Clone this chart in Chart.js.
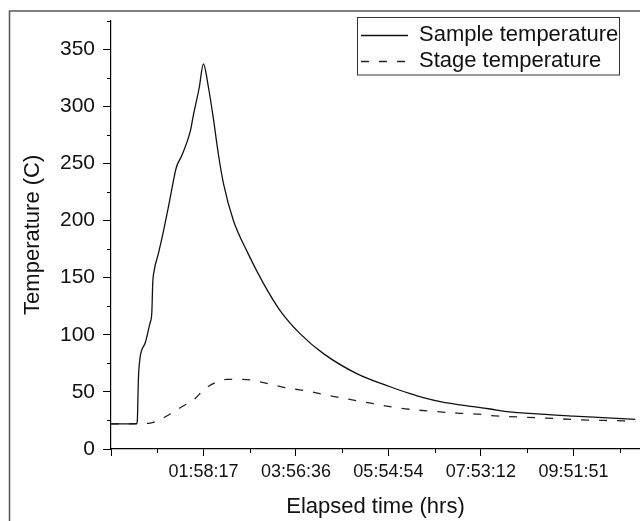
<!DOCTYPE html>
<html>
<head>
<meta charset="utf-8">
<title>Sample and stage temperature</title>
<script src="https://cdn.jsdelivr.net/npm/chart.js@4.4.1/dist/chart.umd.min.js"></script>
<style>
  html, body { margin: 0; padding: 0; background: #fff; }
  #wrap { width: 640px; height: 521px; }
</style>
</head>
<body>
<div id="wrap"><canvas id="chart" width="640" height="521"></canvas></div>
<script>
// elapsed time in hours, temperature in C
const sampleHours = [0, 0.54, 0.56, 0.585, 0.62, 0.65, 0.73, 0.83, 0.87, 0.89,
  0.92, 1.01, 1.12, 1.22, 1.29, 1.39, 1.51, 1.69, 1.76, 1.88,
  1.97, 2.08, 2.18, 2.29, 2.40, 2.61, 2.90, 3.25, 3.61, 4.03,
  4.53, 5.24, 5.95, 6.38, 6.66, 7.02, 7.73, 8.09, 8.44, 9.15,
  9.86, 10.58, 11.18];
const sampleTemps = [22, 22, 24, 62, 80, 86, 93, 110, 119, 145,
  156, 171, 191, 211, 226, 246, 257, 278, 293, 316,
  337, 316, 290, 258, 232, 200, 173, 145, 121, 101,
  83.5, 66, 54.5, 48.5, 45, 41.5, 37, 35, 32.8, 30.5,
  28.8, 27.3, 26];

const stageHours = [0, 0.80, 1.15, 1.51, 1.79, 1.97, 2.22, 2.47, 2.82, 3.18,
  3.68, 4.25, 4.68, 5.03, 5.42, 5.81, 6.20, 6.56, 6.91, 7.38,
  7.84, 8.09, 9.15, 10.22, 10.93, 11.18];
const stageTemps = [22, 22.4, 28, 37, 44, 51.5, 58, 61, 61, 58.7,
  54, 50.2, 46.6, 43.9, 41, 38, 35.6, 34, 32.8, 31.4,
  30.5, 29.3, 27.3, 25.2, 24.6, 23.8];

const seriesNames = ['Sample temperature', 'Stage temperature'];
const xTickLabels = ['01:58:17', '03:56:36', '05:54:54', '07:53:12', '09:51:51'];
const yTickValues = [0, 50, 100, 150, 200, 250, 300, 350];

const FONT = "'Liberation Sans', Arial, sans-serif";
const INK = '#111';
const LEGEND_PAD = 4;
const LEGEND_FONT = 22;
const LEGEND_LINE = 47;

function toHours(label) {
  const parts = label.split(':').map(Number);
  return parts[0] + parts[1] / 60 + parts[2] / 3600;
}
const xTickValues = [0].concat(xTickLabels.map(toHours));

function toPoints(xs, ys) {
  return xs.map((x, i) => ({ x: x, y: ys[i] }));
}

// small unlabelled ticks half way between the labelled ones
const minorTicks = {
  id: 'minorTicks',
  afterDraw(chart) {
    const ctx = chart.ctx;
    const area = chart.chartArea;
    const xs = chart.scales.x, ys = chart.scales.y;
    ctx.save();
    ctx.strokeStyle = '#000';
    ctx.lineWidth = 1;
    ctx.beginPath();
    const xStep = xTickValues[1] - xTickValues[0];
    xTickValues.forEach(v => {
      const m = v + xStep / 2;
      if (m > xs.max) return;
      const px = Math.round(xs.getPixelForValue(m)) + 0.5;
      ctx.moveTo(px, area.bottom);
      ctx.lineTo(px, area.bottom + 4);
    });
    const yStep = yTickValues[1] - yTickValues[0];
    yTickValues.forEach(v => {
      const m = v + yStep / 2;
      if (m > ys.max) return;
      const py = Math.round(ys.getPixelForValue(m)) + 0.5;
      ctx.moveTo(area.left - 4, py);
      ctx.lineTo(area.left, py);
    });
    ctx.stroke();
    ctx.restore();
  }
};

// legend placed top right inside a box (with dashed samples), plus the outer figure frame
const frame = {
  id: 'frame',
  afterLayout(chart) {
    const lg = chart.legend;
    const w = lg.width, h = lg.height;
    lg.left = 357;
    lg.top = 19.5;
    lg.right = lg.left + w;
    lg.bottom = lg.top + h;
  },
  afterDraw(chart) {
    const ctx = chart.ctx;
    const lg = chart.legend;
    ctx.save();
    chart.data.datasets.forEach((ds, i) => {
      const y = Math.round(lg.top + LEGEND_PAD + LEGEND_FONT / 2 + i * (LEGEND_FONT + LEGEND_PAD)) + 0.5;
      const x0 = lg.left + LEGEND_PAD;
      ctx.strokeStyle = ds.borderColor;
      ctx.lineWidth = ds.borderWidth;
      ctx.setLineDash(ds.borderDash || []);
      ctx.beginPath();
      ctx.moveTo(x0, y);
      ctx.lineTo(x0 + LEGEND_LINE, y);
      ctx.stroke();
    });
    ctx.setLineDash([]);
    ctx.strokeStyle = '#333';
    ctx.lineWidth = 1;
    ctx.strokeRect(357.5, 17.5, 262, 57.5);
    ctx.strokeStyle = '#555';
    ctx.lineWidth = 1.5;
    ctx.beginPath();
    ctx.moveTo(9.5, chart.height);
    ctx.lineTo(9.5, 11);
    ctx.lineTo(chart.width, 11);
    ctx.stroke();
    ctx.restore();
  }
};

new Chart(document.getElementById('chart'), {
  type: 'line',
  data: {
    datasets: [{
      label: seriesNames[0],
      data: toPoints(sampleHours, sampleTemps),
      borderColor: '#111',
      backgroundColor: '#111',
      borderWidth: 1.3,
      pointRadius: 0,
      cubicInterpolationMode: 'monotone'
    }, {
      label: seriesNames[1],
      data: toPoints(stageHours, stageTemps),
      borderColor: '#222',
      backgroundColor: '#222',
      borderWidth: 1.3,
      borderDash: [8, 10],
      pointRadius: 0,
      cubicInterpolationMode: 'monotone'
    }]
  },
  options: {
    responsive: false,
    animation: false,
    devicePixelRatio: 1,
    layout: { padding: { top: 20, right: 0, bottom: 0, left: 0 } },
    plugins: {
      legend: {
        position: 'chartArea',
        align: 'start',
        labels: {
          usePointStyle: true,
          pointStyle: 'line',
          pointStyleWidth: LEGEND_LINE,
          padding: LEGEND_PAD,
          color: INK,
          font: { family: FONT, size: LEGEND_FONT },
          // samples are drawn by the frame plugin so the dash shows
          generateLabels: chart => Chart.defaults.plugins.legend.labels.generateLabels(chart)
            .map(item => Object.assign(item, { strokeStyle: 'rgba(0,0,0,0)' }))
        }
      },
      tooltip: { enabled: false }
    },
    scales: {
      x: {
        type: 'linear',
        min: 0,
        max: 11.28,
        afterBuildTicks: scale => { scale.ticks = xTickValues.map(v => ({ value: v })); },
        afterFit: scale => { scale.height = 72; },
        ticks: {
          autoSkip: false,
          maxRotation: 0,
          padding: 5,
          color: INK,
          font: { family: FONT, size: 18 },
          callback: (v, i) => (i === 0 ? '' : xTickLabels[i - 1])
        },
        grid: { drawOnChartArea: false, tickLength: 7, color: '#000' },
        border: { display: true, color: '#000', width: 1.2 },
        title: {
          display: true,
          text: 'Elapsed time (hrs)',
          color: INK,
          font: { family: FONT, size: 22 },
          padding: { top: 0, bottom: 1 }
        }
      },
      y: {
        min: 0,
        max: 375,
        afterBuildTicks: scale => { scale.ticks = yTickValues.map(v => ({ value: v })); },
        afterFit: scale => { scale.width = 111; },
        ticks: {
          padding: 8,
          color: INK,
          font: { family: FONT, size: 21 }
        },
        grid: { drawOnChartArea: false, tickLength: 8, color: '#000' },
        border: { display: true, color: '#000', width: 1.2 },
        title: {
          display: true,
          text: 'Temperature (C)',
          color: INK,
          font: { family: FONT, size: 22 },
          padding: { top: 20, bottom: 0 }
        }
      }
    }
  },
  plugins: [minorTicks, frame]
});
</script>
</body>
</html>
